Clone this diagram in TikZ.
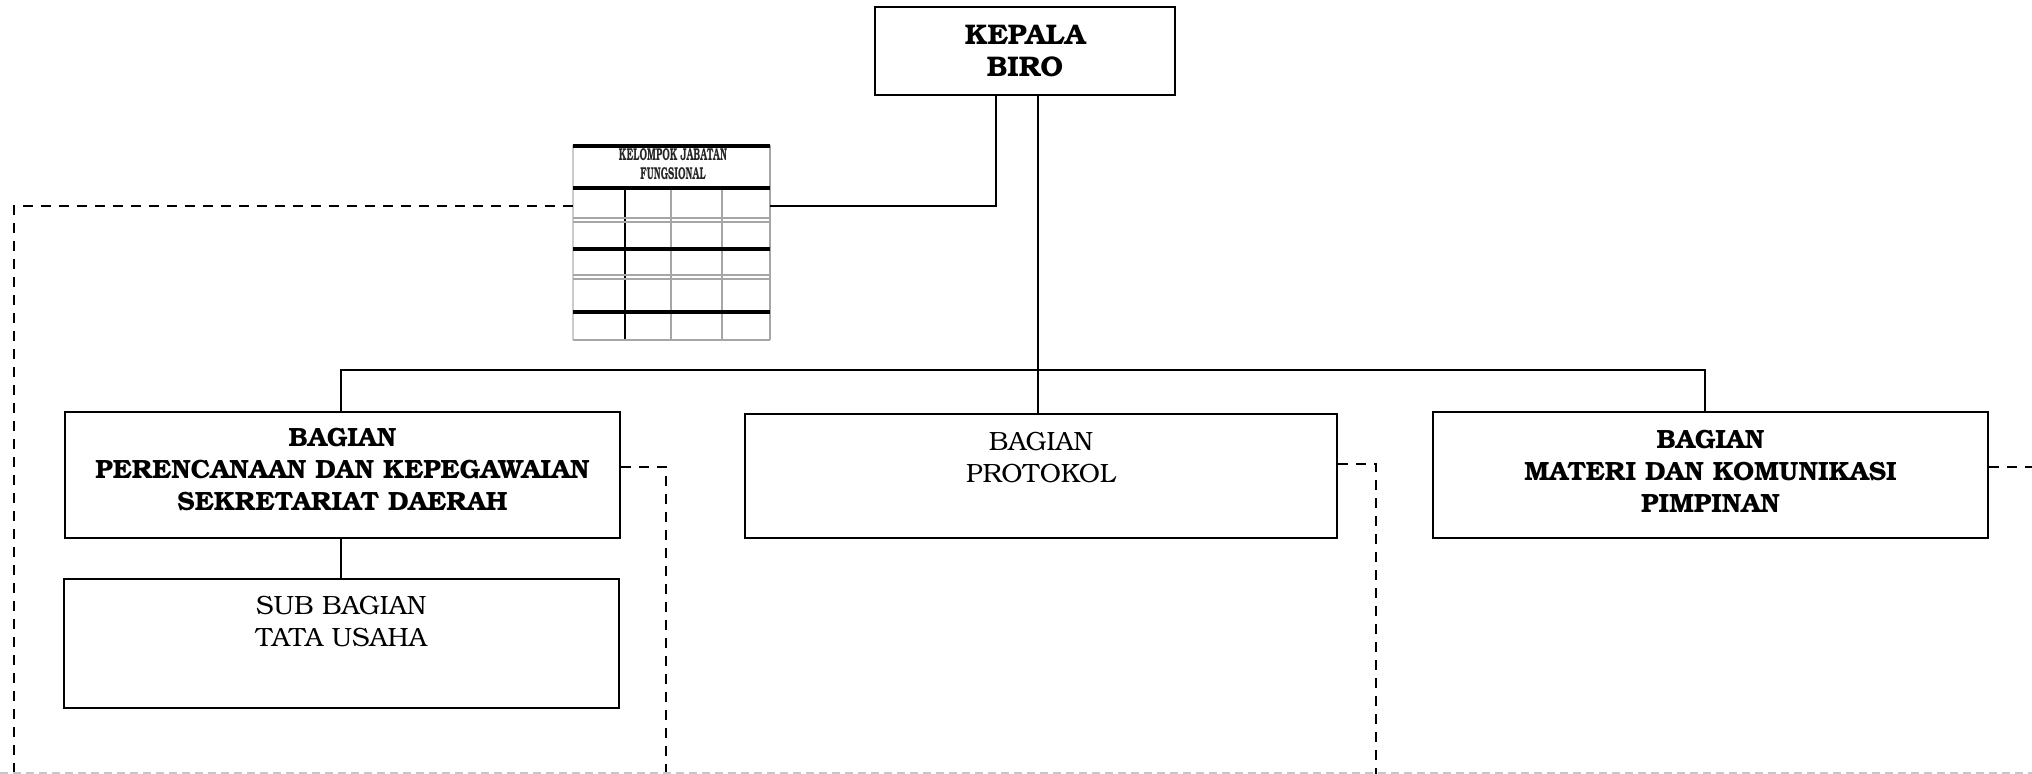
\documentclass[tikz,border=0pt]{standalone}
\usepackage{graphicx}
\usepackage{fontspec}
\setmainfont{TeX Gyre Bonum}
\begin{document}
\begin{tikzpicture}[x=0.5pt,y=-0.5pt,
  box/.style={draw, line width=1pt, inner sep=0pt},
  lbl/.style={font=\fontsize{13.2}{16}\selectfont, align=center, inner sep=0pt},
  blbl/.style={align=center, inner sep=0pt, font=\fontsize{13.2}{16}\selectfont\bfseries},
  conn/.style={line width=1.2pt},
  dsh/.style={line width=0.9pt, dash pattern=on 5pt off 4pt},
  grd/.style={line width=1pt, black},
  grl/.style={line width=0.9pt, gray!70},
]
\useasboundingbox (0,0) rectangle (2032,774);

% boxes
\node[box, minimum width=150pt, minimum height=44pt] (kepala) at (1025,51) {};
\node[align=center, inner sep=0pt, font=\fontsize{14.2}{16}\selectfont\bfseries] (kepalaT) at (1025,51) {KEPALA\\BIRO};

\node[box, minimum width=277.5pt, minimum height=63pt] (perenc) at (342.5,475) {};
\node[blbl] (perencT) at (342.5,470) {BAGIAN\\PERENCANAAN DAN KEPEGAWAIAN\\SEKRETARIAT DAERAH};

\node[box, minimum width=296pt, minimum height=62pt] (protokol) at (1041,476) {};
\node[lbl] (protokolT) at (1041,457.5) {BAGIAN\\PROTOKOL};

\node[box, minimum width=277.5pt, minimum height=63pt] (materi) at (1710.5,475) {};
\node[blbl] (materiT) at (1710.5,471) {BAGIAN\\MATERI DAN KOMUNIKASI\\PIMPINAN};

\node[box, minimum width=277.75pt, minimum height=64.5pt] (sub) at (341.25,643.5) {};
\node[lbl] (subT) at (341.25,622) {SUB BAGIAN\\TATA USAHA};

% table graphic
\node[minimum width=98.5pt, minimum height=97.5pt, inner sep=0pt] (tbl) at (671.5,242.5) {};
\draw[grl, gray!40] (573,145) -- (573,340);
\draw[grl] (770,145) -- (770,340);
\draw[grd] (625,188) -- (625,340);
\draw[grl] (671,188) -- (671,340);
\draw[grl] (722,188) -- (722,340);
\draw[line width=1.6pt] (573,146) -- (770,146);
\draw[line width=2.2pt] (573,188) -- (770,188);
\draw[grl] (573,218) -- (770,218);
\draw[grl] (573,222) -- (770,222);
\draw[line width=1.6pt] (573,249) -- (770,249);
\draw[grl] (573,275) -- (770,275);
\draw[grl] (573,279) -- (770,279);
\draw[line width=1.6pt] (573,312) -- (770,312);
\draw[grl] (573,340) -- (770,340);
\node[inner sep=0pt, text=black!85] (tblT) at (673,166)
  {\scalebox{0.55}[1]{\fontsize{8.6}{9.5}\selectfont\bfseries\begin{tabular}{@{}c@{}}KELOMPOK JABATAN\\FUNGSIONAL\end{tabular}}};

% solid connectors
\coordinate (tj) at (996,206);
\coordinate (kv) at (1038,0);
\coordinate (bl) at (341,370);
\coordinate (br) at (1705,370);
\draw[conn] (kepala.south -| tj) -- (tj) -- (tbl.east |- tj);
\draw[conn] (kepala.south -| kv) -- (protokol.north -| kv);
\draw[conn] (perenc.north -| bl) -- (bl) -- (br) -- (materi.north -| br);
\draw[conn] (perenc.south -| bl) -- (sub.north -| bl);

% dashed connectors
\coordinate (d0) at (14,775);
\coordinate (d1) at (666,775);
\coordinate (d2) at (1376,775);
\coordinate (y1) at (0,467);
\coordinate (y2) at (0,464);
\coordinate (d3) at (2034,467);
\draw[dsh] (tbl.west |- tj) -| (d0);
\draw[dsh] (perenc.east |- y1) -| (d1);
\draw[dsh] (protokol.east |- y2) -| (d2);
\draw[dsh] (materi.east |- d3) -- (d3);
\coordinate (b0) at (0,773);
\coordinate (b1) at (2032,773);
\draw[gray!45, line width=1pt, dash pattern=on 4pt off 2.5pt] (b0) -- (b1);
\end{tikzpicture}
\end{document}
